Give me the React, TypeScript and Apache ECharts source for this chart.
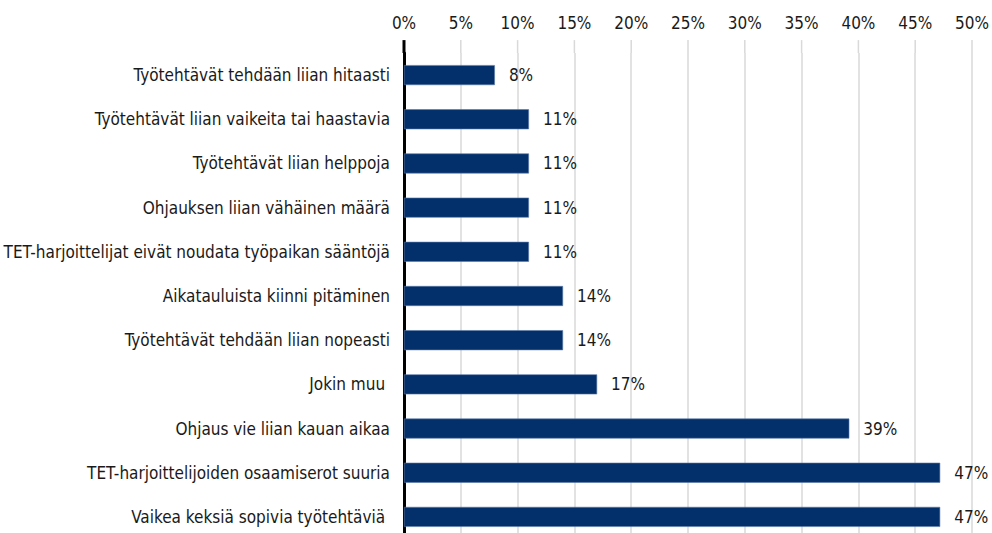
import React, { useEffect, useRef } from "react";
import * as echarts from "echarts";

const categories = [
  "Työtehtävät tehdään liian hitaasti",
  "Työtehtävät liian vaikeita tai haastavia",
  "Työtehtävät liian helppoja",
  "Ohjauksen liian vähäinen määrä",
  "TET-harjoittelijat eivät noudata työpaikan sääntöjä",
  "Aikatauluista kiinni pitäminen",
  "Työtehtävät tehdään liian nopeasti",
  "Jokin muu ",
  "Ohjaus vie liian kauan aikaa",
  "TET-harjoittelijoiden osaamiserot suuria",
  "Vaikea keksiä sopivia työtehtäviä ",
];
const values = [8.0, 11.0, 11.0, 11.0, 11.0, 14.0, 14.0, 17.0, 39.2, 47.2, 47.2];
const labels = ["8%", "11%", "11%", "11%", "11%", "14%", "14%", "17%", "39%", "47%", "47%"];
const ticks = [0, 5, 10, 15, 20, 25, 30, 35, 40, 45, 50];

const FONT = "'Liberation Sans Narrow', 'DejaVu Sans Condensed', sans-serif";

export default function App() {
  const ref = useRef<HTMLDivElement>(null);
  useEffect(() => {
    if (!ref.current) return;
    const chart = echarts.init(ref.current, null, { renderer: "svg" });
    chart.setOption({
      animation: false,
      grid: { left: 404, right: 18, top: 53, height: 486 },
      xAxis: {
        type: "value",
        position: "top",
        min: 0,
        max: 50,
        interval: 5,
        axisLine: { show: false },
        axisTick: { show: false },
        splitLine: { lineStyle: { color: "#d9d9d9", width: 1.5 } },
        axisLabel: {
          formatter: (v: number) => v + "%",
          color: "#1a1a1a",
          fontSize: 17,
          fontFamily: FONT,
          margin: 22,
        },
      },
      yAxis: {
        type: "category",
        inverse: true,
        data: categories,
        axisLine: { lineStyle: { color: "#000", width: 3 } },
        axisTick: { show: false },
        axisLabel: {
          color: "#1a1a1a",
          fontSize: 17,
          fontFamily: FONT,
          margin: 14,
        },
      },
      series: [
        {
          type: "bar",
          data: values,
          barWidth: 20,
          itemStyle: { color: "#03306b", borderColor: "#5a78a8", borderWidth: 0.6 },
          label: {
            show: true,
            position: "right",
            distance: 14,
            formatter: (p: any) => labels[p.dataIndex],
            color: "#1a1a1a",
            fontSize: 17,
            fontFamily: FONT,
          },
        },
      ],
    });
    const g: any[] = [];
    const topY = chart.convertToPixel({ yAxisIndex: 0 }, 0) - 35;
    const gridTop = 53;
    ticks.forEach((t) => {
      const x = chart.convertToPixel({ xAxisIndex: 0 }, t);
      g.push({
        type: "line",
        shape: { x1: x, y1: topY, x2: x, y2: gridTop },
        style: t === 0 ? { stroke: "#000", lineWidth: 3 } : { stroke: "#d9d9d9", lineWidth: 1.5 },
      });
    });
    chart.setOption({ graphic: g });
    return () => chart.dispose();
  }, []);
  return (
    <div
      ref={ref}
      style={{ position: "fixed", left: 0, top: 0, width: 992, height: 545, background: "#fff" }}
    />
  );
}
